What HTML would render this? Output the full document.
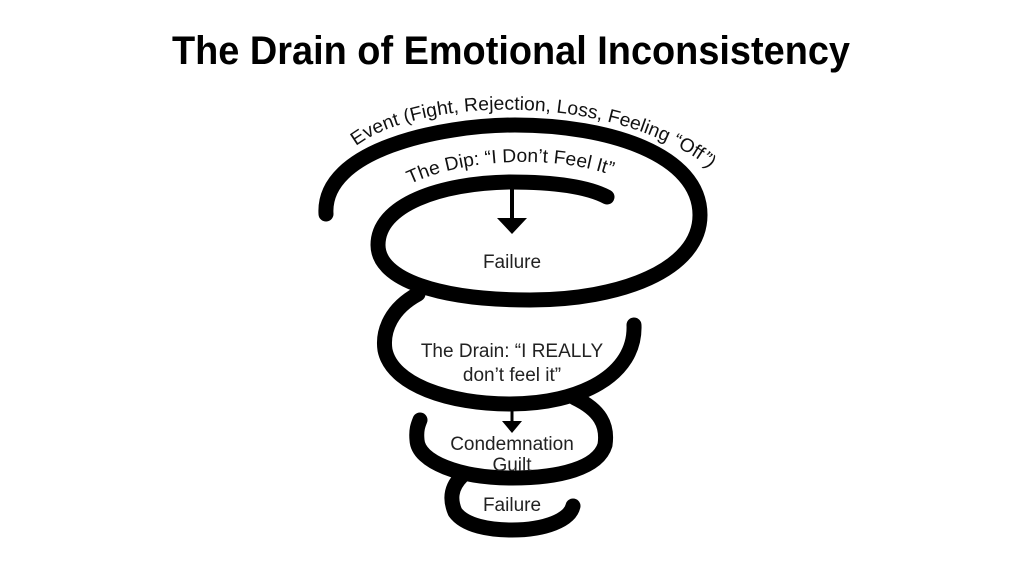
<!DOCTYPE html>
<html><head><style>
html,body{margin:0;padding:0;background:#fff;}
svg{display:block;}
</style></head><body>
<svg width="1024" height="576" viewBox="0 0 1024 576" xmlns="http://www.w3.org/2000/svg">
<rect width="1024" height="576" fill="#fff"/>
<text x="172" y="64" font-family="Liberation Sans, sans-serif" font-weight="bold" font-size="40" textLength="678" lengthAdjust="spacingAndGlyphs" fill="#000">The Drain of Emotional Inconsistency</text>
<defs>
<path id="evt" d="M356,146 C420,98 600,92 702,162 L720,180"/>
<path id="dip" d="M410,184 C470,156 560,156 614,176"/>
</defs>
<text font-family="Liberation Sans, 'DejaVu Sans', sans-serif" font-size="19" fill="#111"><textPath href="#evt" textLength="372" lengthAdjust="spacingAndGlyphs">Event (Fight, Rejection, Loss, Feeling “Off”)</textPath></text>
<text font-family="Liberation Sans, 'DejaVu Sans', sans-serif" font-size="19" fill="#111"><textPath href="#dip" textLength="206" lengthAdjust="spacingAndGlyphs">The Dip: “I Don’t Feel It”</textPath></text>
<g fill="none" stroke="#000" stroke-width="15" stroke-linecap="round" stroke-linejoin="round">
<path d="M326,214 C322,150 440,125 515,125 C610,125 700,155 700,215 C700,270 620,300 530,300 C440,300 378,280 378,245 C378,205 440,183 510,182 C560,182 590,188 607,197"/>
<path d="M418,294 C392,308 382,330 385,350 C392,385 450,404 510,404 C580,404 636,375 634,325"/>
<path d="M575,398 C600,410 608,425 605,445 C598,468 560,478 512,478 C460,478 418,462 417,440 C416,430 418,425 420,420"/>
<path d="M462,476 C450,488 450,500 455,512 C465,526 490,530 512,530 C545,530 570,520 573,506"/>
</g>
<line x1="512" y1="188" x2="512" y2="222" stroke="#000" stroke-width="4"/>
<polygon points="497,218 527,218 512,234" fill="#000"/>
<line x1="512" y1="404" x2="512" y2="424" stroke="#000" stroke-width="3"/>
<polygon points="502,421 522,421 512,433" fill="#000"/>
<g font-family="Liberation Sans, 'DejaVu Sans', sans-serif" font-size="19" fill="#222" text-anchor="middle">
<text x="512" y="268">Failure</text>
<text x="512" y="357">The Drain: “I REALLY</text>
<text x="512" y="381">don’t feel it”</text>
<text x="512" y="450">Condemnation</text>
<text x="512" y="471">Guilt</text>
<text x="512" y="511">Failure</text>
</g>
</svg>
</body></html>
